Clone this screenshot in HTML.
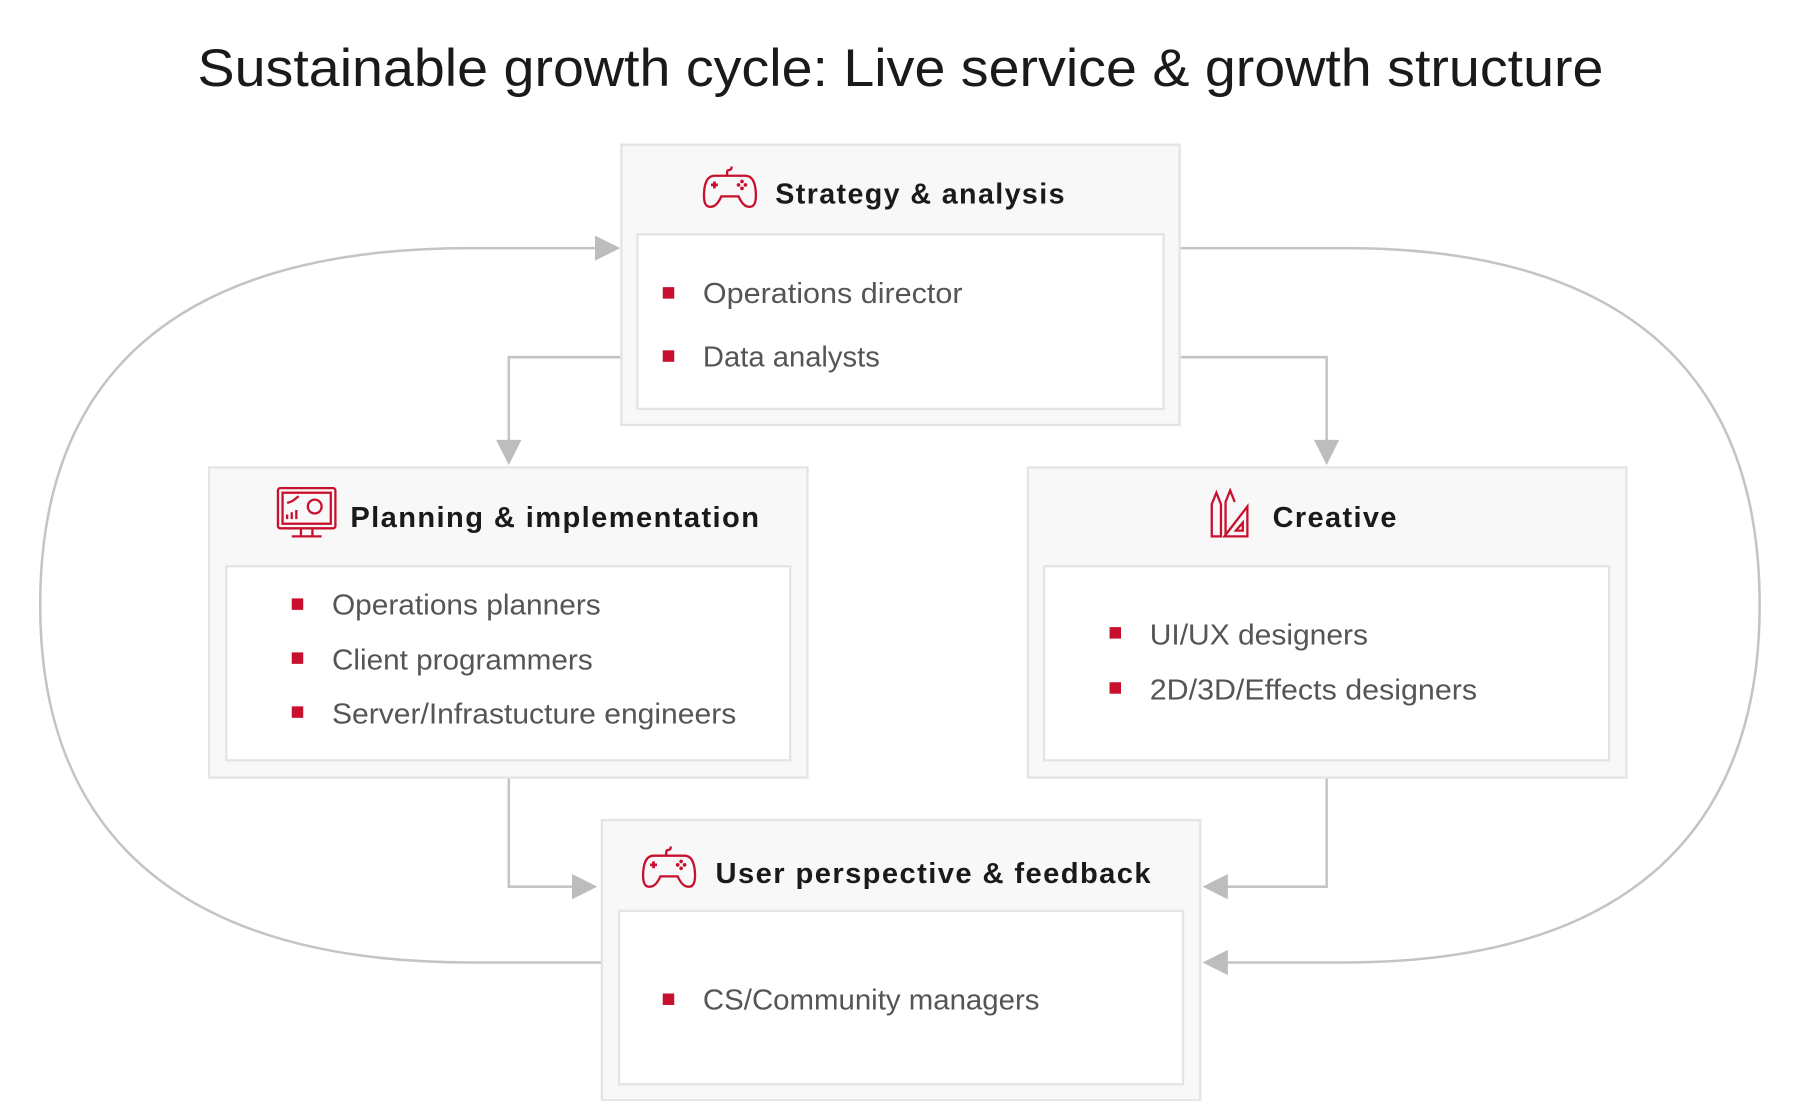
<!DOCTYPE html>
<html><head><meta charset="utf-8"><style>
html,body{margin:0;padding:0;background:#fff;}
svg{display:block;}
text{font-family:"Liberation Sans",sans-serif;}
.h{font-size:25px;font-weight:bold;fill:#1a1a1a;letter-spacing:1.2px;}
.b{font-size:25px;fill:#555;}
.box{fill:#f8f8f8;stroke:#e4e4e4;stroke-width:2;}
.in{fill:#fff;stroke:#e4e4e4;stroke-width:2;}
.ln{fill:none;stroke:#c4c4c4;stroke-width:2.2;}
.ar{fill:#bdbdbd;}
.sq{fill:#c8102e;}
.ic{fill:none;stroke:#c8102e;stroke-width:2;}
</style></head><body>
<svg width="1801" height="1101" viewBox="0 0 1568 958.6" preserveAspectRatio="none">
<text x="784" y="75" text-anchor="middle" font-size="46" fill="#1a1a1a" textLength="1224" lengthAdjust="spacingAndGlyphs">Sustainable growth cycle: Live service &amp; growth structure</text>

<path class="ln" d="M524,838 L410,838 C150,838 35,720 35,527 C35,330 150,216 410,216 L520,216"/>
<polygon class="ar" points="518,205 540,216 518,227"/>
<path class="ln" d="M1027,216 L1170,216 C1420,216 1532,330 1532,527 C1532,720 1420,838 1170,838 L1068,838"/>
<polygon class="ar" points="1069,827 1047,838 1069,849"/>
<path class="ln" d="M541,311 L443,311 L443,385"/>
<polygon class="ar" points="432,383 454,383 443,405"/>
<path class="ln" d="M1027,311 L1155,311 L1155,385"/>
<polygon class="ar" points="1144,383 1166,383 1155,405"/>
<path class="ln" d="M443,677 L443,772 L500,772"/>
<polygon class="ar" points="498,761 520,772 498,783"/>
<path class="ln" d="M1155,677 L1155,772 L1068,772"/>
<polygon class="ar" points="1069,761 1047,772 1069,783"/>

<rect class="box" x="541" y="126" width="486" height="244"/>
<rect class="in" x="555" y="204" width="458" height="152"/>
<g class="ic"><path d="M622,153 q-8,0 -9,14 q-1,14 6,13 q5,0 9,-9 h15 q4,9 9,9 q7,1 6,-13 q-1,-14 -9,-14 z"/><path d="M633,153 v-3 q0,-2 2,-2 q2,0 2,-3"/></g>
<path d="M619,161h6M622,158v6" stroke="#c8102e" stroke-width="2.4"/>
<g fill="#c8102e"><circle cx="646" cy="158" r="1.6"/><circle cx="649" cy="161" r="1.6"/><circle cx="646" cy="164" r="1.6"/><circle cx="643" cy="161" r="1.6"/></g>
<text class="h" x="675" y="177" textLength="253" lengthAdjust="spacingAndGlyphs">Strategy &amp; analysis</text>
<rect class="sq" x="577" y="250" width="10" height="10"/><text class="b" x="612" y="264" textLength="226" lengthAdjust="spacingAndGlyphs">Operations director</text>
<rect class="sq" x="577" y="305" width="10" height="10"/><text class="b" x="612" y="319" textLength="154" lengthAdjust="spacingAndGlyphs">Data analysts</text>

<rect class="box" x="182" y="407" width="521" height="270"/>
<rect class="in" x="197" y="493" width="491" height="169"/>
<rect class="ic" x="242" y="425" width="50" height="35" rx="2"/>
<rect class="ic" x="246" y="429" width="42" height="27" stroke-width="1.2"/>
<path class="ic" d="M262,460v6M272,460v6M254,467h26"/>
<circle class="ic" cx="274" cy="441" r="6" stroke-width="1.8"/>
<path class="ic" stroke-width="1.5" d="M250,452v-4M254,452v-6M258,452v-8M250,438l5,-2l5,-4"/>
<text class="h" x="305" y="459" textLength="357" lengthAdjust="spacingAndGlyphs">Planning &amp; implementation</text>
<rect class="sq" x="254" y="521" width="10" height="10"/><text class="b" x="289" y="535" textLength="234" lengthAdjust="spacingAndGlyphs">Operations planners</text>
<rect class="sq" x="254" y="568" width="10" height="10"/><text class="b" x="289" y="583" textLength="227" lengthAdjust="spacingAndGlyphs">Client programmers</text>
<rect class="sq" x="254" y="615" width="10" height="10"/><text class="b" x="289" y="630" textLength="352" lengthAdjust="spacingAndGlyphs">Server/Infrastucture engineers</text>

<rect class="box" x="895" y="407" width="521" height="270"/>
<rect class="in" x="909" y="493" width="492" height="169"/>
<g class="ic"><path d="M1055,467 v-28 l4,-10 l4,10 v28 z"/><path d="M1067,467 v-30 l4,-10 l4,10"/><path d="M1066,467 l20,-26 v26 z"/><path d="M1076,462 l6,-7 v7 z"/></g>
<text class="h" x="1108" y="459" textLength="109" lengthAdjust="spacingAndGlyphs">Creative</text>
<rect class="sq" x="966" y="546" width="10" height="10"/><text class="b" x="1001" y="561" textLength="190" lengthAdjust="spacingAndGlyphs">UI/UX designers</text>
<rect class="sq" x="966" y="594" width="10" height="10"/><text class="b" x="1001" y="609" textLength="285" lengthAdjust="spacingAndGlyphs">2D/3D/Effects designers</text>

<rect class="box" x="524" y="714" width="521" height="244"/>
<rect class="in" x="539" y="793" width="491" height="151"/>
<g class="ic"><path d="M569,745 q-8,0 -9,14 q-1,14 6,13 q5,0 9,-9 h15 q4,9 9,9 q7,1 6,-13 q-1,-14 -9,-14 z"/><path d="M580,745 v-3 q0,-2 2,-2 q2,0 2,-3"/></g>
<path d="M566,753h6M569,750v6" stroke="#c8102e" stroke-width="2.4"/>
<g fill="#c8102e"><circle cx="593" cy="750" r="1.6"/><circle cx="596" cy="753" r="1.6"/><circle cx="593" cy="756" r="1.6"/><circle cx="590" cy="753" r="1.6"/></g>
<text class="h" x="623" y="769" textLength="380" lengthAdjust="spacingAndGlyphs">User perspective &amp; feedback</text>
<rect class="sq" x="577" y="865" width="10" height="10"/><text class="b" x="612" y="879" textLength="293" lengthAdjust="spacingAndGlyphs">CS/Community managers</text>
</svg>
</body></html>
